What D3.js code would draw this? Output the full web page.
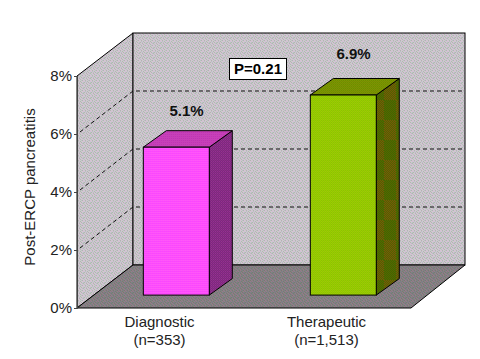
<!DOCTYPE html>
<html>
<head>
<meta charset="utf-8">
<script src="https://cdn.jsdelivr.net/npm/d3@7"></script>
<style>
  html, body { margin: 0; padding: 0; background: #fff; }
  svg { display: block; }
  text { font-family: "Liberation Sans", Arial, sans-serif; }
</style>
</head>
<body>
<div id="chart"></div>
<script>
// data
const categories = ["Diagnostic", "Therapeutic"];
const subLabels = ["(n=353)", "(n=1,513)"];
const rates = [5.1, 6.9];
const rateLabels = ["5.1%", "6.9%"];
const yTicks = [0, 2, 4, 6, 8];
const pLabel = "P=0.21";

const width = 480, height = 359;

const svg = d3.select("#chart").append("svg")
    .attr("width", width)
    .attr("height", height);

// scales for the front plane of the 3d box
const xScale = d3.scaleBand().domain(categories).range([76, 410]).paddingInner(0.605).paddingOuter(0.3025);
const yScale = d3.scaleLinear().domain([0, 8]).range([308, 76]);

// how far the back wall is shifted from the front plane
const depth = { x: 56, y: -43 };
const frontLeft = 77, frontRight = 411;
const barDepth = { x: 23, y: -16.5 };
const barOffset = 0.3;

// dither textures, the reference is a 256 colour gif
const defs = svg.append("defs");
function dither(id, rows) {
    const p = defs.append("pattern")
        .attr("id", id)
        .attr("patternUnits", "userSpaceOnUse")
        .attr("width", rows[0].length)
        .attr("height", rows.length);
    rows.forEach((row, j) => row.forEach((c, i) => {
        p.append("rect").attr("x", i).attr("y", j).attr("width", 1).attr("height", 1)
            .attr("fill", c).attr("shape-rendering", "crispEdges");
    }));
}
const w1 = "#cccccc", w2 = "#aebcac", w3 = "#d8bcd8", w4 = "#bcbcc8";
dither("wall", [
    [w1, w2, w3, w1, w4, w2, w3],
    [w3, w4, w1, w2, w1, w3, w1],
    [w2, w1, w4, w3, w2, w1, w4],
    [w1, w3, w2, w1, w3, w4, w2],
    [w4, w1, w3, w2, w1, w3, w1]
]);
const f1 = "#828282", f2 = "#74806f", f3 = "#98788c", f4 = "#7c7c88";
dither("floor", [
    [f1, f2, f3, f1, f4, f2, f3],
    [f3, f4, f1, f2, f1, f3, f1],
    [f2, f1, f4, f3, f2, f1, f4],
    [f1, f3, f2, f1, f3, f4, f2],
    [f4, f1, f3, f2, f1, f3, f1]
]);
dither("magFront", [["#ff50ff", "#ff5cf4"], ["#f84cfc", "#ff44ff"]]);
dither("magTop", [["#cc3cb4", "#b838b8"], ["#c040c0", "#d040b0"]]);
dither("magSide", [["#8c2c88", "#7c2c7c"], ["#7c2880", "#983090"]]);
dither("grnFront", [["#99cc00", "#8cc400"], ["#90c800", "#a0c808"]]);
dither("grnTop", [["#7c9800", "#6c8c00"], ["#748c04", "#809400"]]);

// the green side has blotches of brown as well as the fine dither
const sideRows = [];
for (let j = 0; j < 40; j++) {
    const row = [];
    for (let i = 0; i < 24; i++) {
        const brown = (Math.floor(i / 12) + Math.floor(j / 20)) % 2 === 0;
        const odd = (i + j) % 2 === 0;
        row.push(brown ? (odd ? "#7c5408" : "#4c6800") : (odd ? "#3c6c00" : "#5c6000"));
    }
    sideRows.push(row);
}
dither("grnSide", sideRows);

const pts = a => a.map(p => p.join(",")).join(" ");
const stroke = "#000";

// left wall
const backY = v => yScale(v) + depth.y;
const backX = frontLeft + depth.x;
const backRight = 465;
svg.append("polygon")
    .attr("points", pts([[frontLeft, yScale(0)], [frontLeft, yScale(8)], [backX, backY(8)], [backX, backY(0)]]))
    .attr("fill", "url(#wall)").attr("stroke", stroke);

// back wall
svg.append("rect")
    .attr("x", backX).attr("y", backY(8))
    .attr("width", backRight - backX).attr("height", backY(0) - backY(8))
    .attr("fill", "url(#wall)").attr("stroke", stroke);

// floor
svg.append("polygon")
    .attr("points", pts([[frontLeft, yScale(0)], [backX, backY(0)], [backRight, backY(0)], [frontRight, yScale(0)]]))
    .attr("fill", "url(#floor)").attr("stroke", stroke);

// gridlines go round the left wall and along the back
svg.selectAll(".grid")
    .data(yTicks.filter(d => d > 0 && d < 8))
    .enter().append("polyline")
    .attr("class", "grid")
    .attr("points", d => pts([[frontLeft + 3, yScale(d) - 2], [backX, backY(d)], [backRight, backY(d)]]))
    .attr("fill", "none")
    .attr("stroke", "#111")
    .attr("stroke-width", 1)
    .attr("stroke-dasharray", "4,3");

// bars
const barFill = [
    { front: "url(#magFront)", top: "url(#magTop)", side: "url(#magSide)" },
    { front: "url(#grnFront)", top: "url(#grnTop)", side: "url(#grnSide)" }
];
const bars = svg.selectAll(".bar")
    .data(categories.map((c, i) => ({ c: c, v: rates[i], fill: barFill[i] })))
    .enter().append("g")
    .attr("class", "bar");

const bx0 = d => xScale(d.c) + depth.x * barOffset;
const bx1 = d => bx0(d) + xScale.bandwidth();
const by0 = d => yScale(0) + depth.y * barOffset;
const byTop = d => yScale(d.v) + depth.y * barOffset;

bars.append("polygon")
    .attr("points", d => pts([[bx1(d), byTop(d)], [bx1(d) + barDepth.x, byTop(d) + barDepth.y],
        [bx1(d) + barDepth.x, by0(d) + barDepth.y], [bx1(d), by0(d)]]))
    .attr("fill", d => d.fill.side).attr("stroke", stroke);
bars.append("polygon")
    .attr("points", d => pts([[bx0(d), byTop(d)], [bx0(d) + barDepth.x, byTop(d) + barDepth.y],
        [bx1(d) + barDepth.x, byTop(d) + barDepth.y], [bx1(d), byTop(d)]]))
    .attr("fill", d => d.fill.top).attr("stroke", stroke);
bars.append("rect")
    .attr("x", bx0).attr("y", byTop)
    .attr("width", xScale.bandwidth())
    .attr("height", d => by0(d) - byTop(d))
    .attr("fill", d => d.fill.front).attr("stroke", stroke);

// y axis
const yAxis = d3.axisLeft(yScale).tickValues(yTicks).tickFormat(d => d + "%").tickSize(3).tickPadding(2);
const yG = svg.append("g").attr("transform", `translate(${frontLeft},0)`).call(yAxis);
yG.select(".domain").attr("stroke", "#444");
yG.selectAll("line").attr("stroke", "#444");
yG.selectAll("text").attr("font-size", 15).attr("fill", "#222")
    .attr("font-family", '"Liberation Sans", Arial, sans-serif');

svg.append("text")
    .attr("transform", "translate(35,187) rotate(-90)")
    .attr("text-anchor", "middle")
    .attr("font-size", 15)
    .attr("fill", "#222")
    .text("Post-ERCP pancreatitis");

// category labels
const midX = c => xScale(c) + xScale.bandwidth() / 2;
svg.selectAll(".cat")
    .data(categories)
    .enter().append("text")
    .attr("class", "cat")
    .attr("x", midX).attr("y", 327)
    .attr("text-anchor", "middle").attr("font-size", 15).attr("fill", "#222")
    .text(d => d);
svg.selectAll(".sub")
    .data(categories)
    .enter().append("text")
    .attr("class", "sub")
    .attr("x", midX).attr("y", 345)
    .attr("text-anchor", "middle").attr("font-size", 15).attr("fill", "#222")
    .text((d, i) => subLabels[i]);

// value labels
const labelLift = [44, 49];
svg.selectAll(".value")
    .data(categories)
    .enter().append("text")
    .attr("class", "value")
    .attr("x", d => midX(d) + 27)
    .attr("y", (d, i) => yScale(rates[i]) - labelLift[i])
    .attr("text-anchor", "middle").attr("font-size", 15).attr("font-weight", "bold").attr("fill", "#111")
    .text((d, i) => rateLabels[i]);

// p value box
svg.append("rect")
    .attr("x", 229.5).attr("y", 58.5).attr("width", 57).attr("height", 21)
    .attr("fill", "#fff").attr("stroke", "#000");
svg.append("text")
    .attr("x", 258).attr("y", 74)
    .attr("text-anchor", "middle").attr("font-size", 15).attr("font-weight", "bold").attr("fill", "#000")
    .text(pLabel);
</script>
</body>
</html>
